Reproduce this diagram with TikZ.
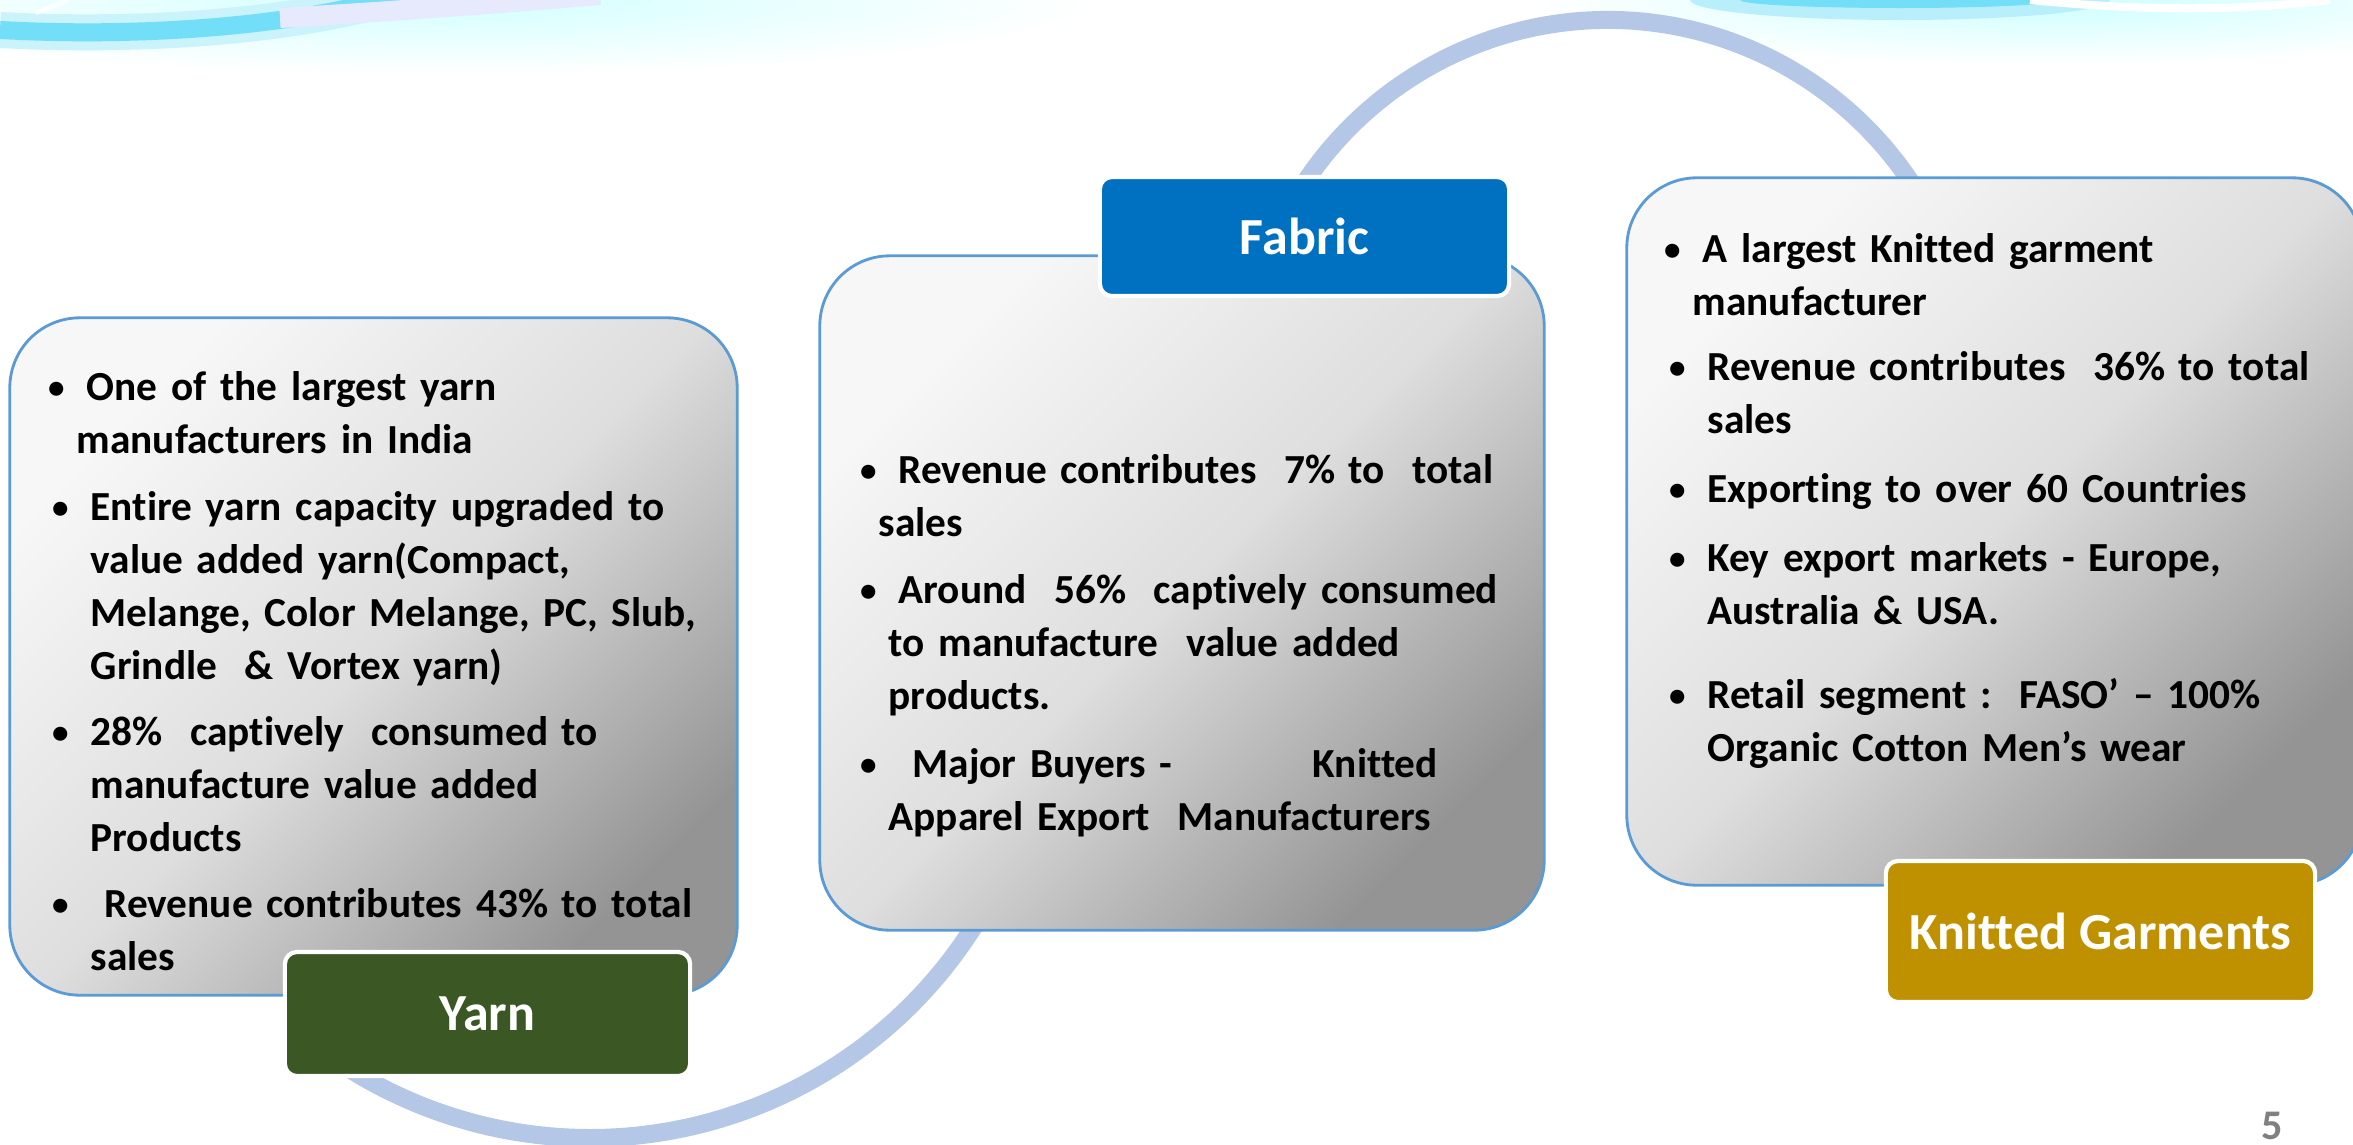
\documentclass[tikz,border=0pt]{standalone}
\usepackage{fontspec}
\setmainfont{Carlito}[Ligatures=NoCommon]
\definecolor{boxblue}{HTML}{5B9BD5}
\definecolor{bandblue}{HTML}{B4C7E7}
\definecolor{yarngreen}{HTML}{3A5724}
\definecolor{fabricblue}{HTML}{0070C0}
\definecolor{knitgold}{HTML}{BF9000}
\definecolor{swoosh}{HTML}{4FD6F6}
\definecolor{lavender}{HTML}{B9C2F7}
\newcommand{\bul}{\llap{\raisebox{0.04em}{\scalebox{0.8}{\textbullet}}\hspace{0.22cm}}}
\tikzset{
  infobox/.style={draw=boxblue, line width=0.8pt, rounded corners=0.7cm,
    top color=black!3, bottom color=black!42, middle color=black!13, shading angle=45},
  tagbox/.style={draw=white, line width=1.2pt, rounded corners=0.12cm, text=white,
    font=\fontsize{14.8}{17}\selectfont\bfseries},
  txt/.style={anchor=base west, align=left, inner sep=0pt, text width=7cm,
    font=\fontsize{11.75}{15.08}\selectfont\bfseries},
  band/.style={draw=bandblue, line width=0.18cm}
}
\begin{document}
\begin{tikzpicture}[x=0.01cm, y=-0.01cm]
        \useasboundingbox (0,0) rectangle (2353,1145);
        \clip (0,0) rectangle (2353,1145);
        % swooshes along the top edge
        \shade[inner color=cyan!18, outer color=white] (450,0) ellipse [x radius=650, y radius=75];
        \draw[swoosh!30, line width=0.36cm] (0,30) .. controls (150,38) and (300,25) .. (400,-5);
        \draw[swoosh!80, line width=0.18cm] (0,30) .. controls (150,38) and (300,25) .. (400,-5);
        \draw[lavender!35, line width=0.2cm] (280,18) .. controls (380,12) and (480,5) .. (600,-5);
        \draw[white, line width=0.04cm] (36,13) -- (68,0);
        \shade[inner color=cyan!20, outer color=white] (2050,0) ellipse [x radius=520, y radius=65];
        \fill[swoosh!40] (1900,0) ellipse [x radius=210, y radius=20];
        \fill[swoosh!80] (1900,0) ellipse [x radius=160, y radius=8];
        \draw[white, line width=0.08cm] (2030,0) .. controls (2150,12) and (2250,10) .. (2330,0);
        % bands
        \coordinate (topc) at (1608,384);
        \coordinate (botc) at (590,684);
        \draw[band] (topc) ++(200:364) arc [start angle=200, end angle=340, radius=364];
        \draw[band] (botc) ++(130:454) arc [start angle=130, end angle=25, radius=454];
        % boxes
        \node[infobox, minimum width=7.27cm, minimum height=6.77cm] (yarnbox) at (373.5,656.5) {};
        \node[infobox, minimum width=7.24cm, minimum height=6.74cm] (fabricbox) at (1182,593) {};
        \node[infobox, minimum width=7.35cm, minimum height=7.07cm] (knitbox) at (1994.5,531.5) {};
        % yarn
        \node[txt] (y1) at (86,400) {\bul One of the largest yarn\\\hspace{-0.1cm}manufacturers in India};
        \node[txt] (y2) at (90,520) {\bul Entire yarn capacity upgraded to\\value added yarn(Compact,\\Melange, Color Melange, PC, Slub,\\Grindle\ \ \& Vortex yarn)};
        \node[txt] (y3) at (90,745) {\bul 28\%\ \ captively\ \ consumed to\\manufacture value added\\Products};
        \node[txt] (y4) at (90,917) {\bul\ Revenue contributes 43\% to total\\sales};
        % fabric
        \node[txt] (f1) at (898,483) {\bul Revenue contributes\ \ 7\% to\ \ total\\\hspace{-0.2cm}sales};
        \node[txt] (f2) at (898,603) {\bul Around\ \ 56\%\ \ captively consumed\\\hspace{-0.1cm}to manufacture\ \ value added\\\hspace{-0.1cm}products.};
        \node[txt] (f3) at (898,777) {\bul\ Major Buyers -\hspace{1.4cm}Knitted\\\hspace{-0.1cm}Apparel Export\ \ Manufacturers};
        % knitted garments
        \node[txt] (k1) at (1702,262) {\bul A largest Knitted garment\\\hspace{-0.1cm}manufacturer};
        \node[txt] (k2) at (1707,380) {\bul Revenue contributes\ \ 36\% to total\\sales};
        \node[txt] (k3) at (1707,502) {\bul Exporting to over 60 Countries};
        \node[txt] (k4) at (1707,571) {\bul Key export markets - Europe,\\Australia \& USA.};
        \node[txt] (k5) at (1707,708) {\bul Retail segment :\ \ FASO’ – 100\%\\Organic Cotton Men’s wear};
        % tags
        \node[tagbox, fill=yarngreen, minimum width=4.05cm, minimum height=1.24cm] (yarn) at (487.5,1014) {Yarn};
        \node[tagbox, fill=fabricblue, minimum width=4.09cm, minimum height=1.19cm] (fabric) at (1304.5,236.5) {Fabric};
        \node[tagbox, fill=knitgold, minimum width=4.29cm, minimum height=1.41cm] (knit) at (2100.5,931.5) {Knitted Garments};
        \node[font=\fontsize{12}{14}\selectfont\bfseries, text=black!50] (page) at (2272,1126) {5};
\end{tikzpicture}
\end{document}
